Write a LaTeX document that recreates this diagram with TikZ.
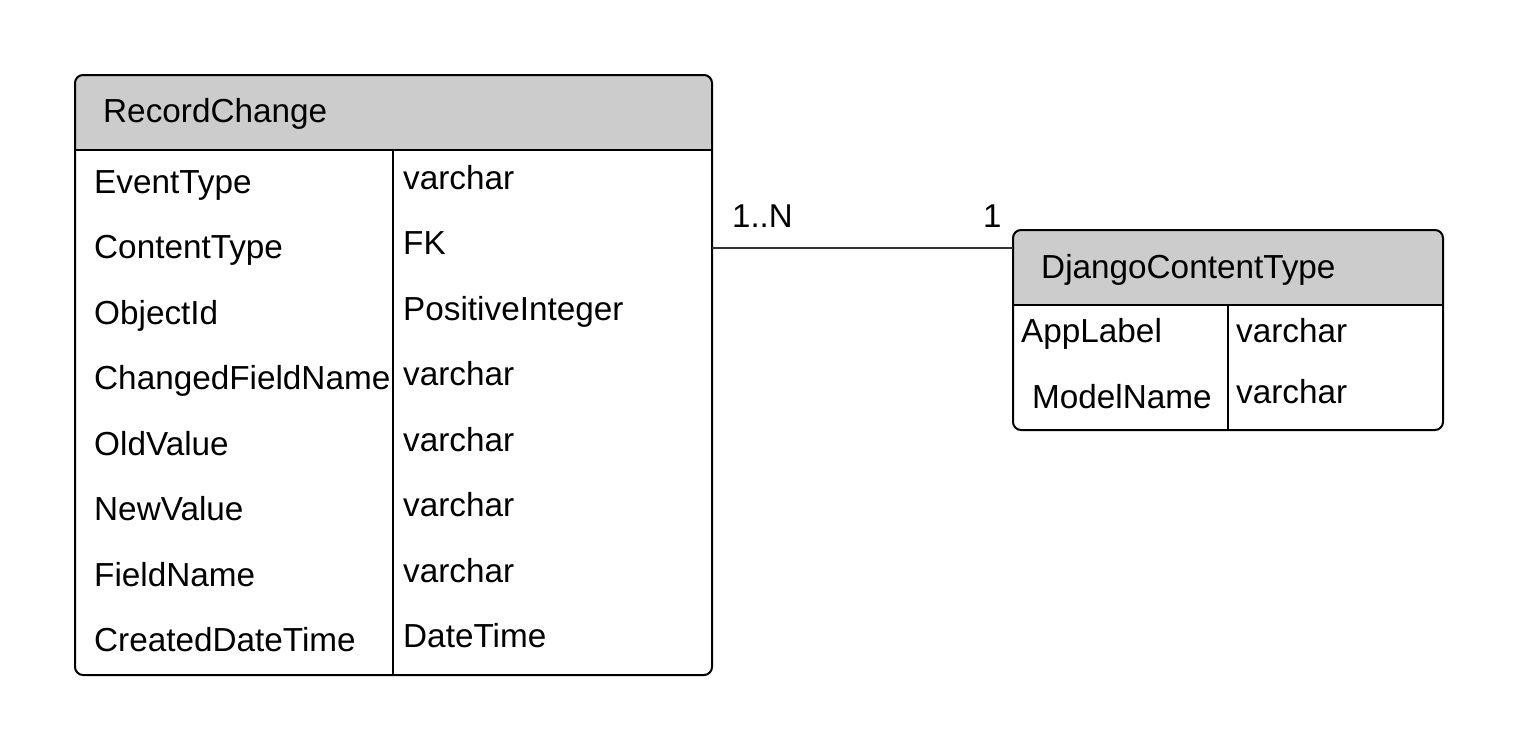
\documentclass[tikz,border=0pt]{standalone}
\usepackage{fontspec}
\setmainfont{Liberation Sans}
\begin{document}
\begin{tikzpicture}[x=1pt,y=-1pt,
  frame/.style={draw=black,line width=2pt,rounded corners=8pt,inner sep=0pt,outer sep=0pt},
  sep/.style={draw=black,line width=2pt},
  conn/.style={draw=black!80,line width=1.2pt},
  txt/.style={anchor=base west,inner sep=0pt,font=\fontsize{33.3}{40}\selectfont},
  lbl/.style={anchor=base west,inner sep=0pt,font=\fontsize{33}{40}\selectfont}]
\definecolor{hdr}{HTML}{CCCCCC}
\useasboundingbox (0,0) rectangle (1519,750);
% RecordChange table
\begin{scope}
\clip[rounded corners=8pt] (75,75) rectangle (712,675);
\fill[hdr] (75,75) rectangle (712,150);
\end{scope}
\node[frame,minimum width=637pt,minimum height=600pt] (rc) at (393.5,375) {};
\draw[sep] (75,150) -- (712,150);
\draw[sep] (393,150) -- (393,675);
\node[txt] (rch) at (103,122) {RecordChange};
\foreach \n/\t [count=\i from 0] in {EventType/varchar,ContentType/FK,ObjectId/PositiveInteger,ChangedFieldName/varchar,OldValue/varchar,NewValue/varchar,FieldName/varchar,CreatedDateTime/DateTime}{
  \node[txt] (rn\i) at (94,193+65.57*\i) {\n};
  \node[txt] (rt\i) at (403,189+65.57*\i) {\t};
}
% DjangoContentType table
\begin{scope}
\clip[rounded corners=8pt] (1013,230) rectangle (1443,430);
\fill[hdr] (1013,230) rectangle (1443,305);
\end{scope}
\node[frame,minimum width=430pt,minimum height=200pt] (dct) at (1228,330) {};
\draw[sep] (1013,305) -- (1443,305);
\draw[sep] (1228,305) -- (1228,430);
\node[txt] (dcth) at (1041,278) {DjangoContentType};
\node[txt] (dn0) at (1021,342) {AppLabel};
\node[txt] (dt0) at (1236,342) {varchar};
\node[txt] (dn1) at (1032,408) {ModelName};
\node[txt] (dt1) at (1236,403) {varchar};
% connector
\coordinate (ly) at (0,248);
\draw[conn] (rc.east |- ly) -- (dct.west |- ly);
\node[lbl] (m1) at (732,227) {1..N};
\node[lbl] (m2) at (983,227) {1};
\end{tikzpicture}
\end{document}
